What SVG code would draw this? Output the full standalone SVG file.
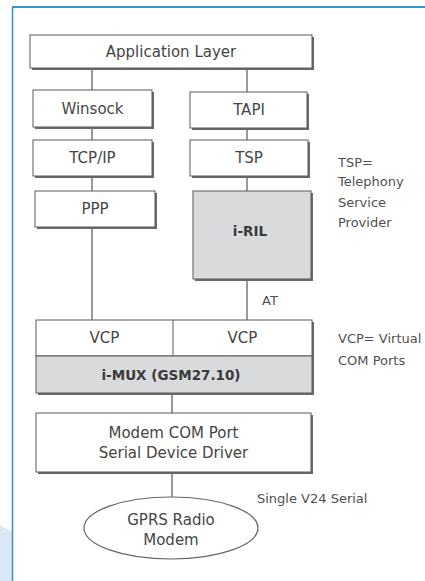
<svg xmlns="http://www.w3.org/2000/svg" width="425" height="581" viewBox="0 0 425 581">
<style>
.box{fill:#ffffff;stroke:#5a5a5a;stroke-width:1}
.gbox{fill:#d8dadb;stroke:#5a5a5a;stroke-width:1}
.sh{fill:#6a6a6a}
.t{font-family:"DejaVu Sans",sans-serif;font-size:15px;fill:#454545;text-anchor:middle}
.b{font-family:"DejaVu Sans",sans-serif;font-weight:bold;font-size:13.5px;fill:#3a3a3a;text-anchor:middle}
.n{font-family:"DejaVu Sans",sans-serif;font-size:13px;fill:#505050}
.c{stroke:#555;stroke-width:1.2;fill:none}
</style>
<rect width="425" height="581" fill="#ffffff"/>
<polygon points="0,525 12,532 12,581 0,581" fill="#dde6f4"/>
<line x1="12.5" y1="7" x2="12.5" y2="581" stroke="#2f8fd6" stroke-width="1.5"/>
<line x1="12" y1="7" x2="425" y2="7" stroke="#3594d4" stroke-width="1.8"/>
<g id="connectors">
<line class="c" x1="92" y1="68" x2="92" y2="90"/>
<line class="c" x1="247" y1="68" x2="247" y2="92"/>
<line class="c" x1="92" y1="127" x2="92" y2="140"/>
<line class="c" x1="247" y1="128" x2="247" y2="140"/>
<line class="c" x1="92" y1="176" x2="92" y2="191"/>
<line class="c" x1="247" y1="176" x2="247" y2="191"/>
<line class="c" x1="92" y1="227" x2="92" y2="320"/>
<line class="c" x1="247" y1="279" x2="247" y2="320"/>
<line class="c" x1="172" y1="393" x2="172" y2="413"/>
<line class="c" x1="172" y1="472" x2="172" y2="497"/>
<text class="n" x="270" y="305" text-anchor="middle">AT</text>
<text class="n" x="257" y="503" font-size="12.5">Single V24 Serial</text>
</g>
<g id="app">
<rect class="sh" x="32" y="37" width="282" height="33"/>
<rect class="box" x="30" y="35" width="282" height="33"/>
<text class="t" x="171" y="57">Application Layer</text>
</g>
<g id="winsock">
<rect class="sh" x="35" y="92" width="119" height="37"/>
<rect class="box" x="33" y="90" width="119" height="37"/>
<text class="t" x="92.5" y="114">Winsock</text>
</g>
<g id="tapi">
<rect class="sh" x="192" y="94" width="117" height="36"/>
<rect class="box" x="190" y="92" width="117" height="36"/>
<text class="t" x="249" y="115">TAPI</text>
</g>
<g id="tcpip">
<rect class="sh" x="35" y="142" width="119" height="36"/>
<rect class="box" x="33" y="140" width="119" height="36"/>
<text class="t" x="92.5" y="163">TCP/IP</text>
</g>
<g id="tsp">
<rect class="sh" x="192" y="142" width="118" height="36"/>
<rect class="box" x="190" y="140" width="118" height="36"/>
<text class="t" x="249" y="163">TSP</text>
</g>
<g id="ppp">
<rect class="sh" x="37" y="193" width="120" height="36"/>
<rect class="box" x="35" y="191" width="120" height="36"/>
<text class="t" x="95" y="214">PPP</text>
</g>
<g id="iril">
<rect class="sh" x="195" y="193" width="118" height="88"/>
<rect class="gbox" x="193" y="191" width="118" height="88"/>
<text class="b" x="250" y="236">i-RIL</text>
</g>
<g id="imux">
<rect class="sh" x="38" y="322" width="276" height="73"/>
<rect class="box" x="36" y="320" width="276" height="36"/>
<rect class="gbox" x="36" y="356" width="276" height="37"/>
<line x1="173" y1="320" x2="173" y2="356" stroke="#5a5a5a" stroke-width="1"/>
<text class="t" x="104.5" y="343">VCP</text>
<text class="t" x="242.5" y="343">VCP</text>
<text class="b" x="171" y="380">i-MUX (GSM27.10)</text>
</g>
<g id="driver">
<rect class="sh" x="38" y="415" width="275" height="59"/>
<rect class="box" x="36" y="413" width="275" height="59"/>
<text class="t" x="173.5" y="438">Modem COM Port</text>
<text class="t" x="173.5" y="458">Serial Device Driver</text>
</g>
<g id="modem">
<ellipse cx="171" cy="528" rx="87" ry="31" fill="#ffffff" stroke="#666" stroke-width="1.2"/>
<text class="t" x="171" y="525">GPRS Radio</text>
<text class="t" x="171" y="545">Modem</text>
</g>
<g id="notes">
<text class="n" x="338" y="167">TSP=</text>
<text class="n" x="338" y="186">Telephony</text>
<text class="n" x="338" y="207">Service</text>
<text class="n" x="338" y="227">Provider</text>
<text class="n" x="338" y="343">VCP= Virtual</text>
<text class="n" x="338" y="365">COM Ports</text>
</g>
</svg>
